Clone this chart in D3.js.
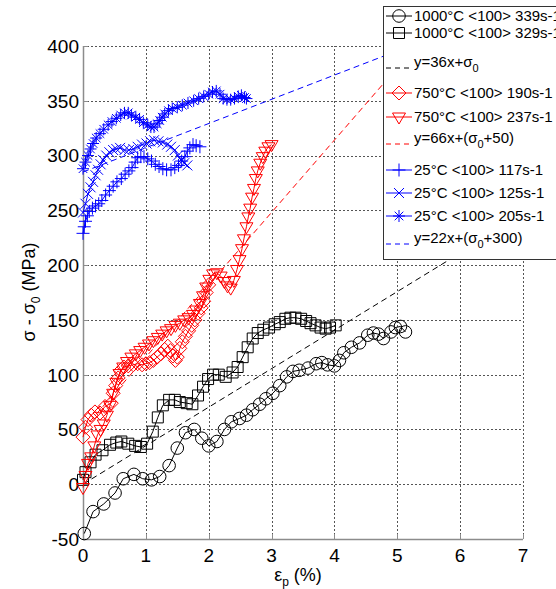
<!DOCTYPE html>
<html>
<head>
<meta charset="utf-8">
<script src="https://cdnjs.cloudflare.com/ajax/libs/d3/7.8.5/d3.min.js"></script>
<style>
  body { margin: 0; background: #fff; }
  text { font-family: "Liberation Sans", Arial, Helvetica, sans-serif; }
</style>
</head>
<body>
<script>
//screen width and height
var w = 556;
var h = 589;

// tick values
var xTicks = [0, 1, 2, 3, 4, 5, 6, 7];
var yTicks = [-50, 0, 50, 100, 150, 200, 250, 300, 350, 400];

// 1000C series  [strain %, stress MPa]
var hot339 = [[0.02,-45],[0.16,-25],[0.33,-18],[0.51,-8],[0.64,5],[0.81,9],[0.95,5],[1.09,4],[1.22,7],
  [1.37,17],[1.5,33],[1.63,47],[1.77,50],[1.89,42],[2.0,35],[2.13,39],[2.25,50],[2.36,57],[2.49,60],
  [2.6,63],[2.7,68],[2.81,73],[2.91,78],[3.02,83],[3.13,90],[3.24,98],[3.34,103],[3.44,104],[3.58,106],
  [3.71,110],[3.8,111],[3.89,109],[4.0,108],[4.08,113],[4.15,120],[4.27,125],[4.4,129],[4.53,136],
  [4.62,138],[4.7,137],[4.78,133],[4.9,139],[4.97,143],[5.05,144],[5.13,139]];
var hot329 = [[0,4],[0.04,11],[0.12,20],[0.2,27],[0.31,31],[0.43,36],[0.53,38],[0.61,39],[0.72,37],
  [0.83,35],[0.92,34],[1.02,37],[1.11,48],[1.19,61],[1.27,72],[1.37,77],[1.46,77],[1.54,75],[1.65,74],
  [1.74,73],[1.83,81],[1.91,89],[1.99,96],[2.07,100],[2.16,100],[2.27,98],[2.38,102],[2.46,107],
  [2.54,116],[2.62,125],[2.7,133],[2.78,138],[2.87,141],[2.96,143],[3.05,146],[3.13,148],[3.22,151],
  [3.3,152],[3.38,152],[3.47,151],[3.55,149],[3.62,147],[3.7,145],[3.78,143],[3.86,142],[3.93,143],[4.02,145]];

// 750C series
var mid190 = [[0,43],[0.04,52],[0.08,59],[0.13,63],[0.19,66],[0.27,65],[0.35,71],[0.45,74],[0.48,83],
  [0.52,90],[0.56,97],[0.6,104],[0.65,107],[0.72,108],[0.8,109],[0.87,110],[0.94,109],[1.0,110],
  [1.06,111],[1.12,113],[1.18,116],[1.24,119],[1.3,123],[1.35,126],[1.39,122],[1.43,117],[1.47,113],
  [1.5,116],[1.54,124],[1.58,130],[1.63,135],[1.68,140],[1.73,145],[1.78,150],[1.83,156],[1.88,161],
  [1.92,167],[1.96,175],[2.0,182]];
var mid237 = [[0,-3],[0.04,8],[0.08,19],[0.13,25],[0.18,35],[0.23,45],[0.28,50],[0.33,55],[0.38,63],
  [0.43,72],[0.48,83],[0.53,93],[0.58,101],[0.64,107],[0.7,112],[0.77,116],[0.84,119],[0.91,122],
  [0.98,125],[1.05,128],[1.12,131],[1.19,134],[1.26,137],[1.33,140],[1.4,142],[1.47,145],[1.54,147],
  [1.61,150],[1.68,152],[1.75,155],[1.8,159],[1.86,165],[1.91,172],[1.96,180],[2.01,187],[2.07,192],
  [2.13,193],[2.19,190],[2.25,185],[2.3,181],[2.35,179],[2.4,186],[2.45,196],[2.49,205],[2.53,215],
  [2.56,224],[2.6,235],[2.63,244],[2.66,252],[2.69,262],[2.72,270],[2.75,279],[2.78,286],[2.82,293],
  [2.86,299],[2.9,304],[2.95,308],[3.0,310]];

// 25C series
var rt117 = [[0,229],[0.02,235],[0.04,240],[0.07,245],[0.1,249],[0.15,252],[0.2,254],[0.25,256],
  [0.3,259],[0.36,264],[0.42,268],[0.48,272],[0.54,276],[0.61,279],[0.67,283],[0.73,286],[0.78,289],
  [0.83,294],[0.87,298],[0.92,299],[0.97,299],[1.03,297],[1.09,295],[1.15,292],[1.21,290],[1.27,288],
  [1.33,287],[1.4,287],[1.46,289],[1.52,291],[1.57,295],[1.62,299],[1.66,304],[1.7,307],[1.75,310],
  [1.8,309],[1.86,308]];
var rt125 = [[0,248],[0.04,256],[0.08,265],[0.12,271],[0.16,276],[0.2,282],[0.24,287],[0.28,292],
  [0.32,296],[0.37,300],[0.42,303],[0.48,305],[0.53,306],[0.59,307],[0.66,305],[0.73,305],[0.8,306],
  [0.87,308],[0.94,310],[1.01,311],[1.07,313],[1.13,314],[1.2,313],[1.27,312],[1.34,310],[1.4,308],
  [1.46,305],[1.51,300],[1.56,296],[1.61,293],[1.66,291]];
var rt205 = [[0,288],[0.04,294],[0.08,300],[0.12,306],[0.16,311],[0.21,316],[0.27,320],[0.33,324],
  [0.4,328],[0.46,331],[0.53,334],[0.6,337],[0.66,339],[0.72,339],[0.77,337],[0.84,335],[0.9,333],
  [0.96,330],[1.03,328],[1.08,326],[1.13,326],[1.18,329],[1.22,332],[1.26,335],[1.3,338],[1.36,341],
  [1.42,343],[1.5,344],[1.58,346],[1.67,348],[1.76,350],[1.84,352],[1.92,354],[2.0,356],[2.06,358],
  [2.12,359],[2.18,356],[2.23,352],[2.29,351],[2.35,351],[2.41,352],[2.47,354],[2.52,355],[2.57,353],[2.6,352]];

// fitted lines, end points
var fitBlack = [[0,0],[6.2,218]];
var fitRed = [[0,50],[5.3,400]];
var fitBlue = [[0,285],[5.2,400]];

var series = [
  {data: hot339, color: "#000", marker: "circle"},
  {data: hot329, color: "#000", marker: "square"},
  {data: fitBlack, color: "#000", dashed: true},
  {data: mid190, color: "#f00", marker: "diamond"},
  {data: mid237, color: "#f00", marker: "triangle"},
  {data: fitRed, color: "#f00", dashed: true},
  {data: rt117, color: "#00f", marker: "plus"},
  {data: rt125, color: "#00f", marker: "cross"},
  {data: rt205, color: "#00f", marker: "star"},
  {data: fitBlue, color: "#00f", dashed: true}
];

var legendRows = [
  {label: "1000°C <100> 339s-1", y: 16},
  {label: "1000°C <100> 329s-1", y: 33},
  {label: ["y=36x+σ", "0", ""], y: 68},
  {label: "750°C <100> 190s-1", y: 93},
  {label: "750°C <100> 237s-1", y: 117},
  {label: ["y=66x+(σ", "0", "+50)"], y: 144},
  {label: "25°C <100> 117s-1", y: 170},
  {label: "25°C <100> 125s-1", y: 193},
  {label: "25°C <100> 205s-1", y: 216},
  {label: ["y=22x+(σ", "0", "+300)"], y: 244}
];

var svg = d3.select("body")
  .append("svg")
  .attr("width", w)
  .attr("height", h);

var x = d3.scaleLinear().domain([0, 7]).range([83, 523]);
var y = d3.scaleLinear().domain([-50, 400]).range([539, 46]);

// grid
svg.append("g").selectAll("line")
  .data(yTicks.slice(1)).enter()
  .append("line")
  .attr("x1", x(0)).attr("x2", x(7))
  .attr("y1", function(d) { return Math.round(y(d)) + 0.5; })
  .attr("y2", function(d) { return Math.round(y(d)) + 0.5; })
  .attr("stroke", "#555").attr("stroke-dasharray", "2,2");
svg.append("g").selectAll("line")
  .data(xTicks.slice(1)).enter()
  .append("line")
  .attr("y1", y(-50)).attr("y2", y(400))
  .attr("x1", function(d) { return Math.round(x(d)) + 0.5; })
  .attr("x2", function(d) { return Math.round(x(d)) + 0.5; })
  .attr("stroke", "#555").attr("stroke-dasharray", "2,2");

// axes
var axisColor = "#8c8c8c";
svg.append("line").attr("x1", 83.5).attr("x2", 83.5).attr("y1", y(400)).attr("y2", y(-50) + 0.5)
  .attr("stroke", axisColor).attr("stroke-width", 1.5);
svg.append("line").attr("x1", 83).attr("x2", x(7)).attr("y1", 539.5).attr("y2", 539.5)
  .attr("stroke", axisColor).attr("stroke-width", 1.5);
svg.append("g").selectAll("line").data(xTicks).enter().append("line")
  .attr("x1", function(d) { return Math.round(x(d)) + 0.5; })
  .attr("x2", function(d) { return Math.round(x(d)) + 0.5; })
  .attr("y1", 539).attr("y2", 534).attr("stroke", axisColor);
svg.append("g").selectAll("line").data(yTicks).enter().append("line")
  .attr("y1", function(d) { return Math.round(y(d)) + 0.5; })
  .attr("y2", function(d) { return Math.round(y(d)) + 0.5; })
  .attr("x1", 83).attr("x2", 88).attr("stroke", axisColor);

// tick labels
svg.append("g").selectAll("text").data(yTicks).enter().append("text")
  .attr("x", 79).attr("y", function(d) { return y(d); })
  .attr("dy", "0.36em").attr("text-anchor", "end")
  .style("font-size", "19px")
  .text(function(d) { return d; });
svg.append("g").selectAll("text").data(xTicks).enter().append("text")
  .attr("x", function(d) { return x(d); }).attr("y", 562)
  .attr("text-anchor", "middle")
  .style("font-size", "19px")
  .text(function(d) { return d; });

// axis titles
var yl = svg.append("text")
  .attr("transform", "translate(35,292) rotate(-90)")
  .attr("text-anchor", "middle")
  .style("font-size", "18px");
yl.append("tspan").text("σ - σ");
yl.append("tspan").attr("dy", 5).style("font-size", "12px").text("0");
yl.append("tspan").attr("dy", -5).text(" (MPa)");

var xl = svg.append("text")
  .attr("x", 298).attr("y", 581)
  .attr("text-anchor", "middle")
  .style("font-size", "18px");
xl.append("tspan").text("ε");
xl.append("tspan").attr("dy", 5).style("font-size", "12px").text("p");
xl.append("tspan").attr("dy", -5).text(" (%)");

// marker shapes
var markerPath = function(type) {
  switch (type) {
    case "square": return "M-5.5,-5.5H5.5V5.5H-5.5Z";
    case "diamond": return "M0,-7L7,0L0,7L-7,0Z";
    case "triangle": return "M-6.5,-4L6.5,-4L0,7Z";
    case "plus": return "M-6.5,0H6.5M0,-6.5V6.5";
    case "cross": return "M-5,-5L5,5M-5,5L5,-5";
    case "star": return "M-6,0H6M0,-6V6M-4.3,-4.3L4.3,4.3M-4.3,4.3L4.3,-4.3";
  }
};

var drawMarkers = function(g, pts, s) {
  if (s.marker === "circle") {
    g.selectAll("circle").data(pts).enter().append("circle")
      .attr("cx", function(d) { return d[0]; })
      .attr("cy", function(d) { return d[1]; })
      .attr("r", 6.3)
      .attr("fill", "none").attr("stroke", s.color);
  } else {
    g.selectAll("path.m").data(pts).enter().append("path")
      .attr("class", "m")
      .attr("d", markerPath(s.marker))
      .attr("transform", function(d) { return "translate(" + d[0] + "," + d[1] + ")"; })
      .attr("fill", "none").attr("stroke", s.color);
  }
};

var line = d3.line()
  .x(function(d) { return x(d[0]); })
  .y(function(d) { return y(d[1]); });

series.forEach(function(s) {
  var g = svg.append("g");
  g.append("path")
    .attr("d", line(s.data))
    .attr("fill", "none")
    .attr("stroke", s.color)
    .attr("stroke-width", 1)
    .attr("stroke-dasharray", s.dashed ? "6,4" : null);
  if (s.marker) {
    drawMarkers(g, s.data.map(function(d) { return [x(d[0]), y(d[1])]; }), s);
  }
});

// legend
var lg = svg.append("g");
lg.append("rect")
  .attr("x", 383.5).attr("y", 6.5)
  .attr("width", 200).attr("height", 253)
  .attr("fill", "#fff").attr("stroke", "#333");

legendRows.forEach(function(r, i) {
  var s = series[i];
  lg.append("line")
    .attr("x1", 386).attr("x2", 412)
    .attr("y1", r.y).attr("y2", r.y)
    .attr("stroke", s.color)
    .attr("stroke-dasharray", s.dashed ? "5,4" : null);
  if (s.marker) drawMarkers(lg.append("g"), [[399, r.y]], s);
  var t = lg.append("text").attr("x", 414).style("font-size", "15px");
  if (typeof r.label === "string") {
    t.attr("y", r.y).attr("dy", "0.36em").text(r.label);
  } else {
    t.attr("y", r.y - 1);
    t.append("tspan").text(r.label[0]);
    t.append("tspan").attr("dy", 5).style("font-size", "11px").text(r.label[1]);
    t.append("tspan").attr("dy", -5).text(r.label[2]);
  }
});
</script>
</body>
</html>
